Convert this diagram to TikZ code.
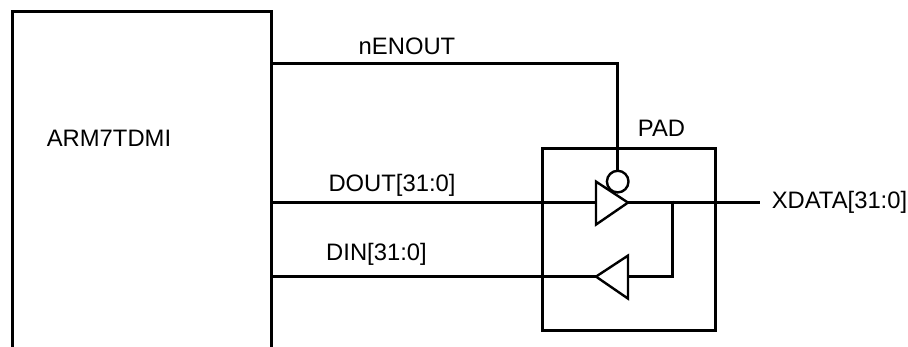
\documentclass[tikz,border=0pt]{standalone}
\usepackage{fontspec}
\setmainfont{Liberation Sans}
\tikzset{
  wire/.style={line width=3pt,black},
  lbl/.style={font=\fontsize{23.8}{26}\selectfont,inner sep=0pt,text=black,anchor=base},
  buffer/.style={line width=2.4pt,draw=black,fill=white,line join=miter},
  padbox/.style={draw=black,line width=3pt,minimum width=173pt,minimum height=182pt,inner sep=0pt}
}
\begin{document}
\begin{tikzpicture}[x=1pt,y=-1pt]
\useasboundingbox (0,0) rectangle (908,347);
\begin{scope}[yshift=-0.6pt]
% ARM7TDMI block, open at the bottom
\coordinate (cpuBL) at (12,346.6);
\coordinate (cpuTL) at (12,11);
\coordinate (cpuTR) at (271.5,11);
\coordinate (cpuBR) at (271.5,346.6);
\draw[wire,line join=miter] (cpuBL) -- (cpuTL) -- (cpuTR) -- (cpuBR);
\node[lbl] (armlabel) at (109,146) {ARM7TDMI};
% PAD
\node[padbox] (pad) at (628.5,239) {};
\node[lbl] (padlabel) at (661.5,136) {PAD};
% wire endpoints
\coordinate (enSrc) at (271.5,63);
\coordinate (enCorner) at (617.7,63);
\coordinate (outSrc) at (271.5,202);
\coordinate (inSrc) at (271.5,276);
\coordinate (tipOut) at (628,202);
\coordinate (tipIn) at (596,276);
\coordinate (junction) at (672,202);
\coordinate (junctionB) at (672,276);
\coordinate (xdataEnd) at (760,202);
\coordinate (inTail) at (628,276);
% wires
\draw[wire,line join=miter] (enSrc) -- (enCorner) -- (617.7,170);
\draw[wire] (outSrc) -- (tipOut);
\draw[wire] (inSrc) -- (tipIn);
\draw[wire] (tipOut) -- (xdataEnd);
\draw[wire,line join=miter] (672,200) -- (junctionB) -- (inTail);
% bubble and buffers
\draw[line width=2.4pt,draw=black] (617.7,181) circle (10.8);
\draw[buffer] (596,181) -- (tipOut) -- (596,224) -- cycle;
\draw[buffer] (628,255) -- (tipIn) -- (628,298) -- cycle;
% labels
\node[lbl] (nen) at (407,54) {nENOUT};
\node[lbl] (dout) at (392,191) {DOUT[31:0]};
\node[lbl] (din) at (376.5,260) {DIN[31:0]};
\node[lbl] (xd) at (839.5,208) {XDATA[31:0]};
\end{scope}
\end{tikzpicture}
\end{document}
